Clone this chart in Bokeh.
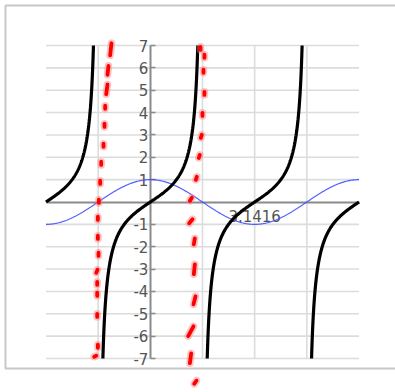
import numpy as np
from bokeh.plotting import figure
from bokeh.models import Range1d, LinearAxis, FixedTicker, ColumnDataSource
from bokeh.embed import file_html
from bokeh.resources import INLINE

# Domain and value window of the graph
X_MIN, X_MAX = -np.pi, 2 * np.pi
Y_MIN, Y_MAX = -7, 7

# Axis ticks and labels
Y_TICKS = [-7, -6, -5, -4, -3, -2, -1, 0, 1, 2, 3, 4, 5, 6, 7]
Y_TICK_LABELS = ["-7", "-6", "-5", "-4", "-3", "-2", "-1", "", "1", "2", "3", "4", "5", "6", "7"]
X_TICKS = [np.pi]
X_TICK_LABELS = ["3.1416"]
X_GRID = [-np.pi / 2, np.pi / 2, np.pi, 3 * np.pi / 2]

# Tangent branches are centred on multiples of pi
TAN_CENTRES = [-np.pi, 0.0, np.pi, 2 * np.pi]

# Red dotted strokes drawn near the asymptotes (x0, y0) -> (x1, y1), data units
LEFT_X0 = [-1.17, -1.26, -1.29, -1.36, -1.38, -1.41, -1.48, -1.51, -1.55, -1.58, -1.58, -1.56, -1.59, -1.60, -1.60, -1.60, -1.58, -1.69]
LEFT_Y0 = [7.10, 6.09, 5.26, 4.31, 3.50, 2.61, 1.80, 0.95, 0.10, -0.66, -1.51, -2.27, -3.03, -3.57, -4.06, -5.00, -6.38, -6.92]
LEFT_X1 = [-1.21, -1.29, -1.33, -1.36, -1.38, -1.41, -1.48, -1.51, -1.55, -1.58, -1.58, -1.56, -1.63, -1.60, -1.60, -1.60, -1.58, -1.63]
LEFT_Y1 = [6.56, 5.69, 4.82, 4.17, 3.36, 2.47, 1.66, 0.81, -0.04, -0.80, -1.65, -2.41, -3.17, -3.71, -4.20, -5.14, -6.52, -6.88]

RIGHT_X0 = [1.51, 1.63, 1.60, 1.63, 1.57, 1.55, 1.49, 1.40, 1.25, 1.27, 1.34, 1.34, 1.36, 1.30, 1.23, 1.39]
RIGHT_Y0 = [6.94, 6.59, 5.92, 4.93, 3.99, 3.01, 2.11, 1.13, 0.19, -0.77, -1.63, -2.79, -4.22, -5.56, -6.77, -7.99]
RIGHT_X1 = [1.51, 1.63, 1.60, 1.63, 1.57, 1.52, 1.46, 1.37, 1.19, 1.17, 1.31, 1.31, 1.30, 1.14, 1.19, 1.32]
RIGHT_Y1 = [6.80, 6.45, 5.78, 4.79, 3.85, 2.87, 1.97, 0.99, 0.05, -0.95, -1.89, -3.23, -4.58, -6.00, -7.21, -8.13]

# Canvas geometry (pixels)
W, H = 395, 392
FRAME_L, FRAME_R, FRAME_T, FRAME_B = 45.5, 358.5, 45.0, 358.0
SX = (FRAME_R - FRAME_L) / (X_MAX - X_MIN)
SY = (FRAME_B - FRAME_T) / (Y_MAX - Y_MIN)
x_start = X_MIN - FRAME_L / SX
x_end = X_MAX + (W - FRAME_R) / SX
y_end = Y_MAX + FRAME_T / SY
y_start = Y_MIN - (H - FRAME_B) / SY

p = figure(width=W, height=H, x_range=Range1d(x_start, x_end), y_range=Range1d(y_start, y_end),
           x_axis_location=None, y_axis_location=None, min_border=0,
           output_backend="svg", toolbar_location=None)
p.outline_line_color = None
p.background_fill_color = "white"
p.border_fill_color = "white"
p.xgrid.visible = False
p.ygrid.visible = False

# Grid lines confined to the graph window
GRID_COLOR = "#dcdcdc"
GRID_W = 1.6
hy = [t for t in Y_TICKS if t != 0]
g1 = p.segment(x0=[X_MIN] * len(hy), y0=hy, x1=[X_MAX] * len(hy), y1=hy,
               line_color=GRID_COLOR, line_width=GRID_W)
g2 = p.segment(x0=X_GRID, y0=[Y_MIN] * len(X_GRID), x1=X_GRID, y1=[Y_MAX] * len(X_GRID),
               line_color=GRID_COLOR, line_width=GRID_W)
g1.level = "underlay"
g2.level = "underlay"

# Outer panel border (open on the right)
bx0 = x_start + 5 / SX
bx1 = x_end + 10 / SX
by1 = y_end - 5 / SY
by0 = y_start + (H - 368) / SY
p.line([bx1, bx0, bx0, bx1], [by1, by1, by0, by0], line_color="#c8c8c8", line_width=2)

LABEL_FONT = "DejaVu Sans"
LABEL_COLOR = "#555555"

yaxis = LinearAxis(fixed_location=0, ticker=FixedTicker(ticks=Y_TICKS), bounds=(Y_MIN, Y_MAX))
yaxis.major_label_overrides = {t: s for t, s in zip(Y_TICKS, Y_TICK_LABELS)}
yaxis.axis_line_color = "#8a8a8a"
yaxis.axis_line_width = 2
yaxis.major_tick_line_color = "#8a8a8a"
yaxis.major_tick_line_width = 1.5
yaxis.major_tick_in = 5
yaxis.major_tick_out = 0
yaxis.minor_tick_line_color = None
yaxis.major_label_standoff = 2
yaxis.major_label_text_font = LABEL_FONT
yaxis.major_label_text_font_size = "15px"
yaxis.major_label_text_color = LABEL_COLOR
yaxis.level = "underlay"
p.add_layout(yaxis, "left")

xaxis = LinearAxis(fixed_location=0, ticker=FixedTicker(ticks=X_TICKS), bounds=(X_MIN, X_MAX))
xaxis.major_label_overrides = {t: s for t, s in zip(X_TICKS, X_TICK_LABELS)}
xaxis.axis_line_color = "#8a8a8a"
xaxis.axis_line_width = 2
xaxis.major_tick_line_color = None
xaxis.minor_tick_line_color = None
xaxis.major_label_standoff = 2
xaxis.major_label_text_font = LABEL_FONT
xaxis.major_label_text_font_size = "15px"
xaxis.major_label_text_color = LABEL_COLOR
xaxis.level = "underlay"
p.add_layout(xaxis, "below")

# y = cos x over the whole domain
xc = np.linspace(X_MIN, X_MAX, 400)
p.line(xc, np.cos(xc), line_color="#3f4fff", line_width=1.2, line_alpha=0.9)

# y = tan x, one branch per period, cut at the |y| = 7 window
reach = np.arctan(Y_MAX)
xs, ys = [], []
for c in TAN_CENTRES:
    lo = max(X_MIN, c - reach)
    hi = min(X_MAX, c + reach)
    xb = np.linspace(lo, hi, 300)
    xs.append(xb)
    ys.append(np.tan(xb))
p.multi_line(xs, ys, line_color="black", line_width=3.2)

# red dotted strokes with a soft halo
strokes = ColumnDataSource(dict(
    x0=LEFT_X0 + RIGHT_X0, y0=LEFT_Y0 + RIGHT_Y0,
    x1=LEFT_X1 + RIGHT_X1, y1=LEFT_Y1 + RIGHT_Y1,
))
p.segment("x0", "y0", "x1", "y1", source=strokes, line_color="#ff7a7a",
          line_alpha=0.45, line_width=7.5, line_cap="round")
p.segment("x0", "y0", "x1", "y1", source=strokes, line_color="#ff0000",
          line_width=3.8, line_cap="round")

open("out.html", "w").write(file_html(p, INLINE))
